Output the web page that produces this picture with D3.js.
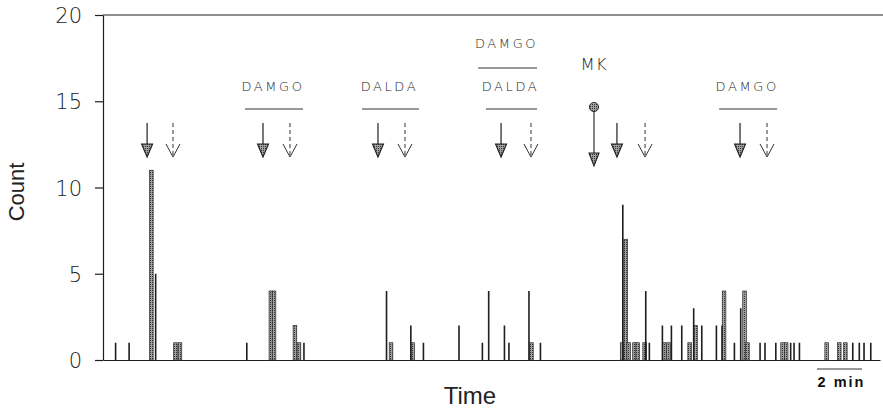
<!DOCTYPE html>
<html><head><meta charset="utf-8">
<script src="https://cdn.jsdelivr.net/npm/d3@7"></script>
<style>body{margin:0;background:#fff}svg{display:block}</style>
</head><body>
<svg id="chart" width="883" height="413"></svg>
<script>
// ---- data (time in minutes, count) ----
const yTicks = [0, 5, 10, 15, 20];
const barTimes  = [0.56,1.16,2.15,2.34,3.22,3.42,6.39,7.46,7.60,8.53,8.71,8.93,
  12.60,12.80,13.68,13.76,14.24,15.82,16.86,17.14,17.84,18.04,18.93,19.04,19.44,
  23.07,23.10,23.23,23.36,23.62,23.76,24.07,24.12,24.28,24.86,24.95,25.13,25.26,25.72,
  26.07,26.25,26.33,26.61,27.26,27.51,27.60,28.06,28.34,28.51,28.64,29.20,29.42,29.90,
  30.20,30.36,30.56,30.71,30.95,32.16,32.72,32.99,33.32,33.61,33.82,34.12];
const barCounts = [1,1,11,5,1,1,1,4,4,2,1,1,
  4,1,2,1,1,2,1,4,2,1,4,1,1,
  1,9,7,1,1,1,1,4,1,2,1,1,2,2,
  1,3,2,2,2,2,4,1,3,4,1,1,1,1,
  1,1,1,1,1,1,1,1,1,1,1,1];
const barStippled = [0,0,1,0,1,1,0,1,1,1,1,0,
  0,1,0,1,0,0,0,0,0,0,0,1,0,
  1,0,1,1,1,1,1,0,0,0,1,1,0,0,
  1,0,1,0,0,0,1,0,0,1,1,0,0,0,
  1,1,0,0,0,1,1,1,0,0,0,0];
const solidArrowTimes  = [1.96, 7.11, 12.22, 17.69, 22.84, 28.31];
const dashedArrowTimes = [3.11, 8.31, 13.42, 19.02, 24.09, 29.51];
const mkTime = 21.82;
const mkLabel = "MK";
const drugLabels = ["DAMGO", "DALDA", "DAMGO", "DALDA", "DAMGO"];
const drugStart  = [6.31, 11.51, 16.67, 17.02, 27.38];
const drugEnd    = [8.89, 14.04, 19.29, 19.29, 29.96];
const drugTier   = [0, 0, 1, 0, 0];
const timeDomain = [0, 34.53];
const scaleBarMinutes = 2;
const scaleBarLabel = "2 min";
const yLabel = "Count";
const xLabel = "Time";

// ---- layout ----
const svg = d3.select("#chart");
const x = d3.scaleLinear().domain(timeDomain).range([103, 880]);
const y = d3.scaleLinear().domain([0, 20]).range([360, 15]);
const ink = "#1e1e1e";

const defs = svg.append("defs");
const pat = defs.append("pattern").attr("id","stip").attr("patternUnits","userSpaceOnUse")
  .attr("width",2).attr("height",2);
pat.append("rect").attr("width",2).attr("height",2).attr("fill","#a0a0a0");
pat.append("rect").attr("width",1).attr("height",1).attr("fill","#333");

// y axis
const yAxis = svg.append("g").attr("transform","translate(103,0)")
  .call(d3.axisLeft(y).tickValues(yTicks).tickSize(8).tickSizeOuter(0).tickPadding(13));
yAxis.select(".domain").attr("stroke",ink).attr("stroke-width",1.2);
yAxis.selectAll(".tick line").attr("stroke",ink).attr("stroke-width",1.2);
yAxis.selectAll(".tick text").attr("font-family","DejaVu Sans").attr("font-weight",200)
  .attr("font-size",21).attr("fill","#222").attr("dy","0.36em");

// baseline and top border
const xAxis = svg.append("g").attr("transform","translate(0,360)")
  .call(d3.axisBottom(x).tickValues([]).tickSizeOuter(0));
xAxis.select(".domain").attr("stroke",ink).attr("stroke-width",1.2);
svg.append("line").attr("x1",x(timeDomain[0])).attr("x2",883)
  .attr("y1",y(20)).attr("y2",y(20)).attr("stroke",ink).attr("stroke-width",1.2);

// bars
const bars = barTimes.map((t,i)=>({t, c:barCounts[i], s:barStippled[i]}));
svg.append("g").selectAll("rect").data(bars.filter(d=>d.s)).join("rect")
  .attr("x",d=>x(d.t)-1.8).attr("width",3.6)
  .attr("y",d=>y(d.c)).attr("height",d=>y(0)-y(d.c))
  .attr("fill","url(#stip)").attr("stroke","#2a2a2a").attr("stroke-width",0.7);
svg.append("g").selectAll("rect").data(bars.filter(d=>!d.s)).join("rect")
  .attr("x",d=>x(d.t)-0.8).attr("width",1.6)
  .attr("y",d=>y(d.c)).attr("height",d=>y(0)-y(d.c))
  .attr("fill",ink);

// arrows
const arrTop = 123, headTop = 144, arrBot = 157;
const sa = svg.append("g").selectAll("g").data(solidArrowTimes).join("g")
  .attr("transform",d=>`translate(${x(d)},0)`);
sa.append("line").attr("y1",arrTop).attr("y2",headTop+2).attr("stroke",ink).attr("stroke-width",1.2);
sa.append("path").attr("d",`M-5.5,${headTop}L5.5,${headTop}L0,${arrBot}Z`)
  .attr("fill","url(#stip)").attr("stroke",ink).attr("stroke-width",1.1);

const da = svg.append("g").selectAll("g").data(dashedArrowTimes).join("g")
  .attr("transform",d=>`translate(${x(d)},0)`);
da.append("line").attr("y1",arrTop).attr("y2",arrBot-1).attr("stroke","#333")
  .attr("stroke-width",1).attr("stroke-dasharray","4,3");
da.append("path").attr("d",`M-7,${headTop}L0,${arrBot}L7,${headTop}`)
  .attr("fill","none").attr("stroke","#333").attr("stroke-width",1);

// MK arrow
const mk = svg.append("g").attr("transform",`translate(${x(mkTime)},0)`);
mk.append("line").attr("y1",107).attr("y2",156).attr("stroke","#333").attr("stroke-width",1.2);
mk.append("path").attr("d","M-5,153L5,153L0,166Z").attr("fill","url(#stip)")
  .attr("stroke",ink).attr("stroke-width",1.1);
mk.append("circle").attr("cy",107).attr("r",4.6).attr("fill","url(#stip)")
  .attr("stroke","#333").attr("stroke-width",1);
mk.append("text").attr("x",0).attr("y",70).attr("text-anchor","middle")
  .attr("font-family","DejaVu Sans").attr("font-weight",200).attr("font-size",16.5)
  .attr("letter-spacing",1).attr("fill","#1a1a1a").text(mkLabel);

// drug labels
const tierLineY = [109, 68], tierTextY = [91, 48];
const drugs = drugLabels.map((l,i)=>({l, s:drugStart[i], e:drugEnd[i], k:drugTier[i]}));
const dg = svg.append("g").selectAll("g").data(drugs).join("g");
dg.append("line").attr("x1",d=>x(d.s)).attr("x2",d=>x(d.e))
  .attr("y1",d=>tierLineY[d.k]).attr("y2",d=>tierLineY[d.k])
  .attr("stroke","#333").attr("stroke-width",1.1);
dg.append("text").attr("x",d=>(x(d.s)+x(d.e))/2 - 1).attr("y",d=>tierTextY[d.k])
  .attr("text-anchor","middle").attr("font-family","DejaVu Sans").attr("font-weight",200)
  .attr("font-size",13).attr("letter-spacing",2.6).attr("fill","#1a1a1a").text(d=>d.l);

// axis titles
svg.append("text").attr("transform","translate(24,192) rotate(-90)").attr("text-anchor","middle")
  .attr("font-family","Liberation Sans Narrow, Liberation Sans").attr("font-size",22)
  .attr("fill","#222").text(yLabel);
svg.append("text").attr("x",470).attr("y",404).attr("text-anchor","middle")
  .attr("font-family","Liberation Sans Narrow, Liberation Sans").attr("font-size",24)
  .attr("fill","#222").text(xLabel);

// scale bar
const sbX0 = 817;
const sbW = x(scaleBarMinutes) - x(0);
svg.append("line").attr("x1",sbX0).attr("x2",sbX0+sbW).attr("y1",369).attr("y2",369)
  .attr("stroke","#333").attr("stroke-width",1.1);
svg.append("text").attr("x",sbX0+sbW/2+2).attr("y",387).attr("text-anchor","middle")
  .attr("font-family","Liberation Sans").attr("font-weight","bold").attr("font-size",14.5)
  .attr("letter-spacing",2).attr("fill","#111").text(scaleBarLabel);
</script>
</body></html>
